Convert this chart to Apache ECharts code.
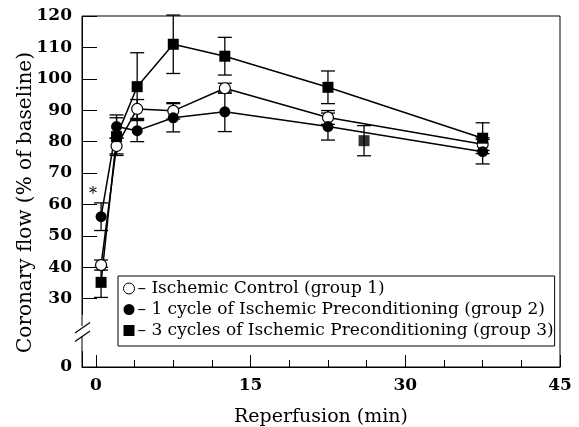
<!DOCTYPE html>
<html>
<head>
<meta charset="utf-8">
<script src="https://cdn.jsdelivr.net/npm/echarts@6/dist/echarts.min.js"></script>
<style>
  html, body { margin: 0; padding: 0; background: #fff; }
</style>
</head>
<body>
<div id="myChart" style="width: 579px; height: 427px;"></div>
<script>
// reperfusion time (min)
var times = [0.5, 2, 4, 7.5, 12.5, 22.5, 37.5];
// group 1 - ischemic control
var control = [40.7, 78.6, 90.4, 89.8, 97.0, 87.7, 79.2];
var controlErr = [1.6, 2.5, 3.0, 2.6, 1.6, 2.2, 2.0];
// group 2 - 1 cycle of preconditioning
var oneCycle = [56.1, 84.8, 83.5, 87.6, 89.5, 84.8, 76.8];
var oneCycleErr = [4.4, 3.7, 3.5, 4.5, 6.3, 4.3, 3.9];
// group 3 - 3 cycles of preconditioning
var threeCycles = [35.2, 81.6, 97.5, 111.0, 107.2, 97.3, 81.1];
var threeCyclesErr = [4.8, 6.0, 10.8, 9.3, 6.0, 5.2, 4.9];
// group 3 extra point, not joined to the line
var extraTime = [26];
var extraValue = [80.3];
var extraErr = [4.8];

var names = [
  'Ischemic Control (group 1)',
  '1 cycle of Ischemic Preconditioning (group 2)',
  '3 cycles of Ischemic Preconditioning (group 3)'
];
var xMajor = [0, 15, 30, 45];
var xMinor = [3.75, 7.5, 11.25, 18.75, 22.5, 26.25, 33.75, 37.5, 41.25];
var yTicks = [0, 30, 40, 50, 60, 70, 80, 90, 100, 110, 120];

var font = 'DejaVu Serif';

function pairs(xs, ys) {
  var out = [];
  for (var i = 0; i < xs.length; i++) out.push([xs[i], ys[i]]);
  return out;
}
function errData(xs, ys, es) {
  var out = [];
  for (var i = 0; i < xs.length; i++) out.push([xs[i], ys[i] - es[i], ys[i] + es[i]]);
  return out;
}

// error bars: vertical line with caps
function renderErr(params, api) {
  var lo = api.coord([api.value(0), api.value(1)]);
  var hi = api.coord([api.value(0), api.value(2)]);
  var w = 7;
  var st = { stroke: '#000', lineWidth: 1.3 };
  return {
    type: 'group',
    children: [
      { type: 'line', shape: { x1: lo[0], y1: lo[1], x2: hi[0], y2: hi[1] }, style: st },
      { type: 'line', shape: { x1: lo[0] - w, y1: lo[1], x2: lo[0] + w, y2: lo[1] }, style: st },
      { type: 'line', shape: { x1: hi[0] - w, y1: hi[1], x2: hi[0] + w, y2: hi[1] }, style: st }
    ]
  };
}

var g2data = pairs(times, oneCycle);
// significance mark above the first point of group 2
g2data[0] = {
  value: g2data[0],
  label: { show: true, formatter: '*', position: 'inside', offset: [-8, -22],
           fontFamily: font, fontSize: 16, color: '#000' }
};

var errSeries = [
  errData(times, control, controlErr),
  errData(times, oneCycle, oneCycleErr),
  errData(times, threeCycles, threeCyclesErr),
  errData(extraTime, extraValue, extraErr)
].map(function (d) {
  return {
    type: 'custom', renderItem: renderErr, data: d, z: 1,
    xAxisIndex: 0, yAxisIndex: 0, silent: true
  };
});

var option = {
  animation: false,
  backgroundColor: '#fff',
  grid: {
    left: 82, top: 16, right: 19, bottom: 60,
    outerBoundsMode: 'none',
    show: true, borderColor: '#000', borderWidth: 1
  },
  legend: {
    orient: 'vertical',
    left: 118, top: 276,
    padding: [4, 1, 7, 5],
    itemGap: 4,
    itemWidth: 11, itemHeight: 11,
    borderColor: '#000', borderWidth: 1,
    backgroundColor: '#fff',
    formatter: function (n) { return '\u2013 ' + n; },
    textStyle: { fontFamily: font, fontSize: 17, color: '#000', padding: [0, 0, 0, -2] },
    data: [
      { name: names[0], icon: 'circle', itemStyle: { color: '#fff', borderColor: '#000', borderWidth: 1 } },
      { name: names[1], icon: 'circle', itemStyle: { color: '#000', borderWidth: 0 } },
      { name: names[2], icon: 'rect', itemStyle: { color: '#000', borderWidth: 0 } }
    ]
  },
  xAxis: [{
    type: 'value', min: -1.35, max: 45,
    name: 'Reperfusion (min)', nameLocation: 'middle', nameGap: 41,
    nameTextStyle: { fontFamily: font, fontSize: 19, color: '#000' },
    axisLine: { show: true, onZero: false, lineStyle: { color: '#000', width: 1 } },
    axisTick: { inside: true, length: 12, customValues: xMajor, lineStyle: { color: '#000' } },
    axisLabel: { customValues: xMajor, margin: 10, fontFamily: font, fontWeight: 'bold', fontSize: 17, color: '#000' },
    splitLine: { show: false }
  }, {
    type: 'value', min: -1.35, max: 45, position: 'bottom',
    axisLine: { show: false, onZero: false },
    axisTick: { inside: true, length: 7, customValues: xMinor, lineStyle: { color: '#000' } },
    axisLabel: { show: false },
    splitLine: { show: false }
  }],
  yAxis: {
    type: 'value', min: 0, max: 120,
    breaks: [{ start: 5, end: 25, gap: 11.75 }],
    breakArea: { show: false },
    name: 'Coronary flow (% of baseline)', nameLocation: 'middle', nameGap: 46,
    nameMoveOverlap: false,
    nameTextStyle: { fontFamily: font, fontSize: 20, color: '#000', padding: [0, 22, 0, 0] },
    axisLine: { show: true, onZero: false, lineStyle: { color: '#000', width: 1 } },
    axisTick: { inside: true, length: 15, customValues: yTicks, lineStyle: { color: '#000' } },
    axisLabel: { customValues: yTicks, margin: 10, fontFamily: font, fontWeight: 'bold', fontSize: 17, color: '#000' },
    splitLine: { show: false }
  },
  graphic: [
    { type: 'rect', shape: { x: 80, y: 326, width: 4, height: 10 }, style: { fill: '#fff' }, z: 100 },
    { type: 'line', shape: { x1: 75, y1: 333, x2: 90, y2: 322.5 }, style: { stroke: '#000', lineWidth: 1.2 }, z: 101 },
    { type: 'line', shape: { x1: 75, y1: 341.5, x2: 90, y2: 331 }, style: { stroke: '#000', lineWidth: 1.2 }, z: 101 }
  ],
  series: errSeries.concat([
    {
      name: names[0], type: 'line', data: pairs(times, control), z: 3,
      symbol: 'circle', symbolSize: 11,
      lineStyle: { color: '#000', width: 1.5 },
      itemStyle: { color: '#fff', borderColor: '#000', borderWidth: 1.2 }
    },
    {
      name: names[1], type: 'line', data: g2data, z: 3,
      symbol: 'circle', symbolSize: 11,
      lineStyle: { color: '#000', width: 1.5 },
      itemStyle: { color: '#000' }
    },
    {
      name: names[2], type: 'line', data: pairs(times, threeCycles), z: 3,
      symbol: 'rect', symbolSize: 11,
      lineStyle: { color: '#000', width: 1.5 },
      itemStyle: { color: '#000' }
    },
    {
      name: names[2], type: 'scatter', data: pairs(extraTime, extraValue), z: 3,
      symbol: 'rect', symbolSize: 11,
      itemStyle: { color: '#000' }
    }
  ])
};

var myChart = echarts.init(document.getElementById('myChart'));
myChart.setOption(option);
</script>
</body>
</html>
